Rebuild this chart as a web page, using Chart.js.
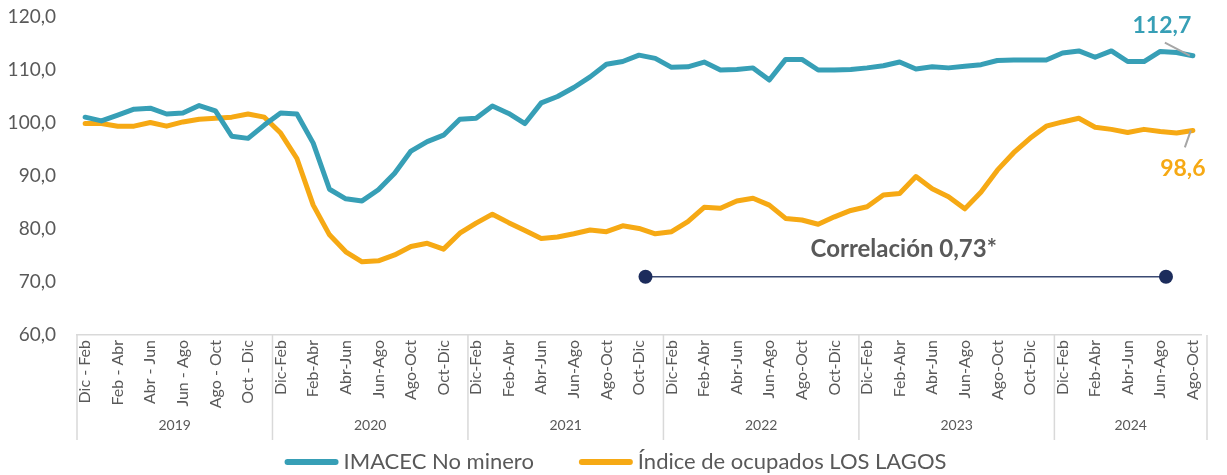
<!DOCTYPE html>
<html>
<head>
<meta charset="utf-8">
<script src="https://cdn.jsdelivr.net/npm/chart.js@4.4.0/dist/chart.umd.min.js"></script>
<style>
  body { margin: 0; background: #fff; }
  #wrap { width: 1227px; height: 475px; }
</style>
</head>
<body>
<div id="wrap"><canvas id="chart"></canvas></div>
<script>
// Moving quarters per year
const years = ["2019", "2020", "2021", "2022", "2023", "2024"];
const yearCounts = [12, 12, 12, 12, 12, 9];
const periods2019 = ["Dic - Feb", "Ene - Mar", "Feb - Abr", "Mar - May", "Abr - Jun", "May - Jul",
  "Jun - Ago", "Jul - Sep", "Ago - Oct", "Sep - Nov", "Oct - Dic", "Nov - Ene"];
const periods = ["Dic-Feb", "Ene-Mar", "Feb-Abr", "Mar-May", "Abr-Jun", "May-Jul",
  "Jun-Ago", "Jul-Sep", "Ago-Oct", "Sep-Nov", "Oct-Dic", "Nov-Ene"];

const imacec = [
  101.1, 100.4, 101.5, 102.6, 102.8, 101.7, 101.9, 103.3, 102.3, 97.5, 97.1, 99.6,
  101.9, 101.7, 96.2, 87.5, 85.7, 85.3, 87.4, 90.5, 94.7, 96.5, 97.7, 100.7,
  100.9, 103.2, 101.8, 99.9, 103.8, 105.0, 106.7, 108.7, 111.1, 111.6, 112.8, 112.2,
  110.5, 110.6, 111.5, 110.0, 110.1, 110.4, 108.1, 112.0, 112.0, 110.0, 110.0, 110.1,
  110.4, 110.8, 111.5, 110.2, 110.6, 110.4, 110.7, 111.0, 111.8, 111.9, 111.9, 111.9,
  113.2, 113.6, 112.4, 113.6, 111.6, 111.6, 113.5, 113.3, 112.7
];
const ocupados = [
  99.9, 99.9, 99.4, 99.4, 100.1, 99.4, 100.2, 100.7, 100.9, 101.1, 101.7, 101.1,
  98.1, 93.3, 84.5, 78.9, 75.7, 73.8, 74.0, 75.1, 76.7, 77.3, 76.2, 79.2,
  81.1, 82.8, 81.2, 79.7, 78.2, 78.5, 79.1, 79.8, 79.5, 80.6, 80.1, 79.1,
  79.5, 81.4, 84.1, 83.9, 85.3, 85.8, 84.5, 82.0, 81.7, 80.9, 82.3, 83.5,
  84.2, 86.4, 86.7, 89.9, 87.6, 86.1, 83.8, 87.0, 91.1, 94.4, 97.1, 99.4,
  100.2, 100.9, 99.2, 98.8, 98.2, 98.8, 98.4, 98.1, 98.6
];

// correlation bracket: from/to category position and level on the value axis
const corrRange = [34.4, 66.35];
const corrLevel = 71;
const corrText = "Correlación 0,73*";

const labels = [];
years.forEach((y, k) => {
  for (let m = 0; m < yearCounts[k]; m++) labels.push(k === 0 ? periods2019[m] : periods[m]);
});

const fmt = v => v.toFixed(1).replace(".", ",");
const TEAL = "#379fb6";
const ORANGE = "#f6a914";
const GREY = "#595959";
const FONT = "Lato, 'Open Sans', sans-serif";

const extras = {
  id: "extras",
  afterDraw(c) {
    const ctx = c.ctx;
    const x = c.scales.x, y = c.scales.y;
    const area = c.chartArea;
    const half = (x.getPixelForValue(1) - x.getPixelForValue(0)) / 2;

    // year row + separators
    ctx.save();
    ctx.strokeStyle = "#d9d9d9";
    ctx.lineWidth = 1.5;
    ctx.fillStyle = GREY;
    ctx.font = "14px " + FONT;
    ctx.textAlign = "center";
    ctx.textBaseline = "middle";
    let start = 0;
    years.forEach((yr, k) => {
      const left = x.getPixelForValue(start) - half;
      const right = k === years.length - 1 ? area.right + 6 : x.getPixelForValue(start + yearCounts[k] - 1) + half;
      ctx.beginPath();
      ctx.moveTo(left, area.bottom);
      ctx.lineTo(left, area.bottom + 105);
      ctx.stroke();
      if (k === years.length - 1) {
        ctx.beginPath();
        ctx.moveTo(right, area.bottom);
        ctx.lineTo(right, area.bottom + 105);
        ctx.stroke();
      }
      ctx.fillText(yr, (left + right) / 2, area.bottom + 90);
      start += yearCounts[k];
    });
    ctx.restore();

    // legend
    ctx.save();
    ctx.font = "22px " + FONT;
    ctx.textBaseline = "middle";
    ctx.lineCap = "round";
    ctx.lineWidth = 6;
    const items = c.data.datasets.map(d => ({ text: d.label, color: d.borderColor, w: ctx.measureText(d.label).width }));
    const sample = 54, gap = 5, spacing = 45;
    const total = items.reduce((s, it) => s + sample + gap + it.w, 0) + spacing * (items.length - 1);
    let lx = c.width / 2 - total / 2 + 2;
    const ly = 462;
    items.forEach(it => {
      ctx.strokeStyle = it.color;
      ctx.beginPath();
      ctx.moveTo(lx + 3, ly);
      ctx.lineTo(lx + sample - 3, ly);
      ctx.stroke();
      ctx.fillStyle = GREY;
      ctx.fillText(it.text, lx + sample + gap, ly);
      lx += sample + gap + it.w + spacing;
    });
    ctx.restore();

    // last value labels
    const n = imacec.length - 1;
    const px = x.getPixelForValue(n);
    const pyT = y.getPixelForValue(imacec[n]);
    const pyO = y.getPixelForValue(ocupados[n]);
    ctx.save();
    ctx.strokeStyle = "#a6a6a6";
    ctx.lineWidth = 2;
    ctx.beginPath();
    ctx.moveTo(px - 3, pyT);
    ctx.lineTo(px - 28, pyT - 13);
    ctx.moveTo(px - 2, pyO);
    ctx.lineTo(px - 8, pyO + 17);
    ctx.stroke();
    ctx.font = "bold 23px " + FONT;
    ctx.textAlign = "center";
    ctx.textBaseline = "middle";
    ctx.fillStyle = TEAL;
    ctx.fillText(fmt(imacec[n]), px - 31, pyT - 30);
    ctx.fillStyle = ORANGE;
    ctx.fillText(fmt(ocupados[n]), px - 10, pyO + 38);
    ctx.restore();

    // correlation bracket
    const x1 = x.getPixelForValue(corrRange[0]);
    const x2 = x.getPixelForValue(corrRange[1]);
    const yc = y.getPixelForValue(corrLevel);
    ctx.save();
    ctx.strokeStyle = "#3b4a73";
    ctx.lineWidth = 1.5;
    ctx.beginPath();
    ctx.moveTo(x1, yc);
    ctx.lineTo(x2, yc);
    ctx.stroke();
    ctx.fillStyle = "#1c2c5c";
    [x1, x2].forEach(xx => {
      ctx.beginPath();
      ctx.arc(xx, yc, 7, 0, Math.PI * 2);
      ctx.fill();
    });
    ctx.font = "bold 24px " + FONT;
    ctx.fillStyle = GREY;
    ctx.textAlign = "center";
    ctx.textBaseline = "middle";
    ctx.fillText(corrText, (x1 + x2) / 2 - 2, yc - 27);
    ctx.restore();
  }
};

new Chart(document.getElementById("chart"), {
  type: "line",
  data: {
    labels: labels,
    datasets: [
      {
        label: "IMACEC No minero",
        data: imacec,
        borderColor: TEAL,
        backgroundColor: TEAL,
        borderWidth: 5,
        pointRadius: 0,
        borderJoinStyle: "round",
        borderCapStyle: "round",
      },
      {
        label: "Índice de ocupados LOS LAGOS",
        data: ocupados,
        borderColor: ORANGE,
        backgroundColor: ORANGE,
        borderWidth: 5,
        pointRadius: 0,
        borderJoinStyle: "round",
        borderCapStyle: "round",
      },
    ],
  },
  options: {
    responsive: true,
    maintainAspectRatio: false,
    animation: false,
    layout: { padding: { top: 17, right: 26, bottom: 0, left: 0 } },
    plugins: {
      tooltip: { enabled: false },
      legend: { display: false },
    },
    scales: {
      x: {
        offset: true,
        grid: { display: false, drawTicks: false },
        border: { color: "#d9d9d9", width: 1.5 },
        ticks: {
          autoSkip: false,
          minRotation: 90,
          maxRotation: 90,
          padding: 5,
          color: GREY,
          font: { family: FONT, size: 16 },
          callback: (v, i) => (i % 2 === 0 ? labels[i] : ""),
        },
        afterFit: s => { s.height = 140; },
      },
      y: {
        min: 60,
        max: 120,
        grid: { display: false, drawTicks: false },
        border: { display: false },
        ticks: {
          stepSize: 10,
          padding: 21,
          color: GREY,
          font: { family: FONT, size: 19 },
          callback: v => fmt(v),
        },
        afterFit: s => { s.width = 77; s.paddingTop = 0; s.paddingBottom = 0; },
      },
    },
  },
  plugins: [extras],
});
</script>
</body>
</html>
